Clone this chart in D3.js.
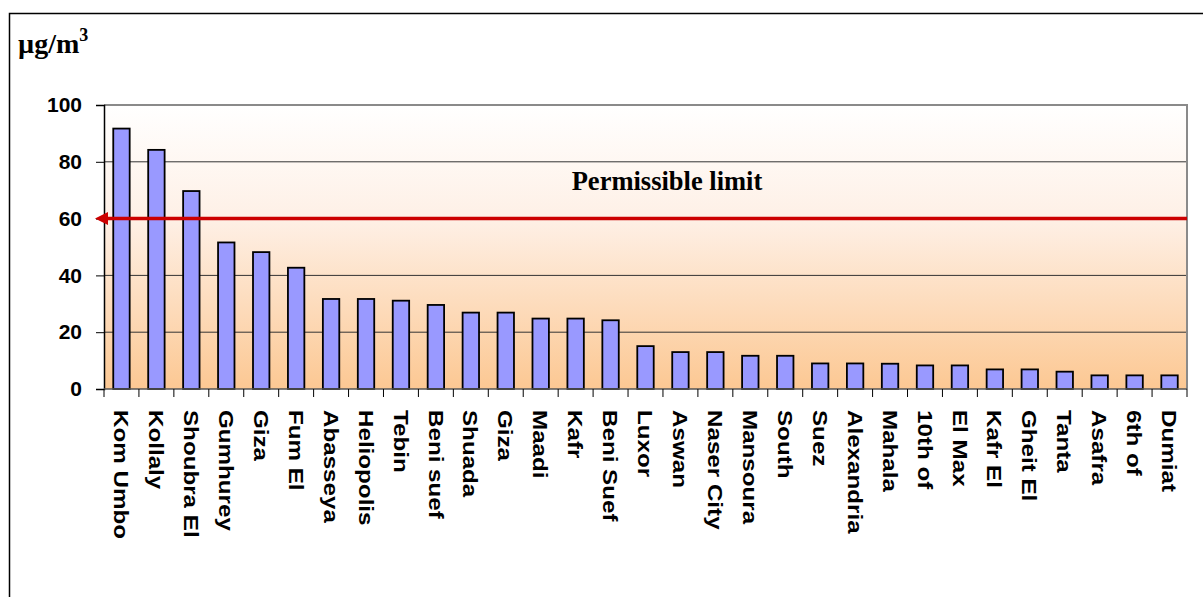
<!DOCTYPE html>
<html><head><meta charset="utf-8">
<script src="https://cdn.jsdelivr.net/npm/d3@7"></script>
<style>body{margin:0;background:#fff}svg{display:block}</style>
</head><body>
<script>
const categories = ["Kom Umbo","Kollaly","Shoubra El","Gumhurey","Giza","Fum El","Abasseya","Heliopolis","Tebin","Beni suef","Shuada","Giza","Maadi","Kafr","Beni Suef","Luxor","Aswan","Naser City","Mansoura","South","Suez","Alexandria","Mahala","10th of","El Max","Kafr El","Gheit El","Tanta","Asafra","6th of","Dumiat"];
const values = [91.7,84.2,69.7,51.6,48.2,42.7,31.7,31.7,31.1,29.6,26.9,26.9,24.8,24.8,24.2,15.1,13.0,13.0,11.7,11.7,9.0,9.0,8.9,8.3,8.3,6.9,6.9,6.1,4.8,4.8,4.8];
const yTicks = [0,20,40,60,80,100];
const limitValue = 60;
const limitLabel = "Permissible limit";
const unitLabel = "µg/m";
</script>
<script>
const W = 1203, H = 597;
const m = {left:104, right:1187, top:105, bottom:389};
const svg = d3.select("body").append("svg").attr("width",W).attr("height",H);

const data = categories.map((c,i)=>({key:i, name:c, v:values[i]}));
const x = d3.scaleBand().domain(data.map(d=>d.key)).range([m.left,m.right]).paddingInner(0.53).paddingOuter(0.265);
const y = d3.scaleLinear().domain([0,100]).range([m.bottom,m.top]);

// outer frame
svg.append("rect").attr("x",9.5).attr("y",13.5).attr("width",1300).attr("height",700)
  .attr("fill","none").attr("stroke","#000").attr("stroke-width",1.5);

// gradient background
const defs = svg.append("defs");
const g = defs.append("linearGradient").attr("id","bg").attr("x1",0).attr("y1",0).attr("x2",0).attr("y2",1);
g.append("stop").attr("offset","0%").attr("stop-color","#ffffff");
g.append("stop").attr("offset","40%").attr("stop-color","#fef0e6");
g.append("stop").attr("offset","100%").attr("stop-color","#fcc893");
svg.append("rect").attr("x",m.left).attr("y",m.top).attr("width",m.right-m.left).attr("height",m.bottom-m.top).attr("fill","url(#bg)");

// gridlines
svg.append("g").selectAll("line").data(yTicks.filter(t=>t>0&&t<100)).join("line")
  .attr("x1",m.left).attr("x2",m.right).attr("y1",d=>y(d)).attr("y2",d=>y(d))
  .attr("stroke","#333").attr("stroke-width",1);
// top & right border
svg.append("path").attr("d",`M${m.left},${y(100)}H${m.right}V${m.bottom}`).attr("fill","none").attr("stroke","#8a8a8a").attr("stroke-width",2);

// bars
svg.append("g").selectAll("rect").data(data).join("rect")
  .attr("x",d=>x(d.key)).attr("width",x.bandwidth())
  .attr("y",d=>y(d.v)).attr("height",d=>y(0)-y(d.v))
  .attr("fill","#9999ff").attr("stroke","#000").attr("stroke-width",1.8);

// y axis
const yAxis = d3.axisLeft(y).tickValues(yTicks).tickSize(8).tickPadding(14);
const ya = svg.append("g").attr("transform",`translate(${m.left},0)`).call(yAxis);
ya.select(".domain").attr("stroke","#000").attr("stroke-width",1.5);
ya.selectAll(".tick line").attr("stroke","#000");
ya.selectAll("text").attr("font-family","Arial, 'Liberation Sans', sans-serif").attr("font-weight","bold").attr("font-size","21px").attr("fill","#000");

// x axis baseline and ticks between bands
const bounds = d3.range(data.length+1).map(i=>m.left + i*x.step());
svg.append("line").attr("x1",m.left).attr("x2",m.right).attr("y1",m.bottom).attr("y2",m.bottom).attr("stroke","#555").attr("stroke-width",1.5);
svg.append("g").selectAll("line").data(bounds).join("line")
  .attr("x1",d=>d).attr("x2",d=>d).attr("y1",m.bottom).attr("y2",m.bottom+8).attr("stroke","#000");

// category labels
svg.append("g").selectAll("text").data(data).join("text")
  .attr("transform",d=>`translate(${x(d.key)+x.bandwidth()/2},410) rotate(90) scale(1.18,1)`)
  .attr("dy","0.36em")
  .attr("font-family","Arial, 'Liberation Sans', sans-serif").attr("font-weight","bold").attr("font-size","20.5px")
  .attr("fill","#000").text(d=>d.name);

// limit line with arrow
const ly = y(limitValue);
svg.append("line").attr("x1",104).attr("x2",m.right).attr("y1",ly).attr("y2",ly).attr("stroke","#cc0000").attr("stroke-width",3.5);
svg.append("path").attr("d",`M95,${ly}L108,${ly-6.5}L108,${ly+6.5}Z`).attr("fill","#cc0000");
svg.append("text").attr("x",667).attr("y",190).attr("text-anchor","middle")
  .attr("font-family","'Times New Roman','Liberation Serif',serif").attr("font-weight","bold").attr("font-size","26.5px").text(limitLabel);

// unit label
const ut = svg.append("text").attr("x",18).attr("y",53)
  .attr("font-family","'Times New Roman','Liberation Serif',serif").attr("font-weight","bold").attr("font-size","28px").text(unitLabel);
ut.append("tspan").attr("dy",-12).attr("font-size","18px").text("3");
</script>
</body></html>
